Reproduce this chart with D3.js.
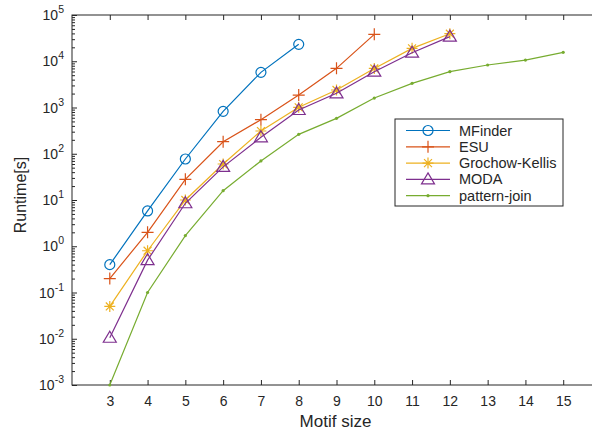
<!DOCTYPE html>
<html><head><meta charset="utf-8">
<script src="https://cdn.jsdelivr.net/npm/d3@7"></script>
<style>body{margin:0;background:#fff}svg{display:block}text{font-family:"Liberation Sans",Arial,sans-serif;fill:#262626}</style>
</head><body><svg id="c" width="592" height="430"></svg>
<script>
const motifSizes = [3,4,5,6,7,8,9,10,11,12,13,14,15];
const xTicks = [3,4,5,6,7,8,9,10,11,12,13,14,15];
const yTickExps = [-3,-2,-1,0,1,2,3,4,5];
const seriesNames = ["MFinder","ESU","Grochow-Kellis","MODA","pattern-join"];
const seriesColors = ["#0072BD","#D95319","#EDB120","#7E2F8E","#77AC30"];
const seriesMarkers = ["circle","plus","star","triangle","dot"];
const mfinder = [0.4, 5.8, 77, 826, 5750, 23200];
const esu = [0.2, 2.0, 28, 182, 546, 1860, 7030, 38200];
const grochow = [0.05, 0.8, 10, 60, 310, 1010, 2390, 7000, 19000, 39400];
const moda = [0.0105, 0.5, 8.5, 52, 227, 883, 2025, 5950, 15300, 34000];
const patternJoin = [0.001, 0.1, 1.7, 15.9, 70, 263, 583, 1600, 3330, 5950, 8300, 10600, 15600];
const seriesValues = [mfinder, esu, grochow, moda, patternJoin];

const svg = d3.select("#c");
const L=72, R=601, T=15, B=385;
const x = d3.scaleLinear().domain([2,16]).range([L,R]);
const y = d3.scaleLog().domain([1e-3,1e5]).range([B,T]);
const axisColor = "#262626";

svg.append("rect").attr("x",L).attr("y",T).attr("width",R-L).attr("height",B-T)
  .attr("fill","none").attr("stroke",axisColor).attr("stroke-width",1);

const xb = svg.append("g").attr("transform",`translate(0,${B})`)
  .call(d3.axisBottom(x).tickValues(xTicks).tickSize(-5).tickPadding(11).tickFormat(d3.format("d")));
const xt = svg.append("g").attr("transform",`translate(0,${T})`)
  .call(d3.axisTop(x).tickValues(xTicks).tickSize(-5).tickFormat(""));
[xb,xt].forEach(g=>{g.select(".domain").remove();g.selectAll("line").attr("stroke",axisColor);});
xb.selectAll("text").attr("font-size",14).attr("fill",axisColor).style("font-family","Liberation Sans, Arial");

const minor=[];
for(let e=-3;e<5;e++){for(let k=2;k<=9;k++)minor.push(k*Math.pow(10,e));}
const yl = svg.append("g").attr("transform",`translate(${L},0)`)
  .call(d3.axisLeft(y).tickValues(yTickExps.map(e=>Math.pow(10,e))).tickSize(-5).tickFormat(""));
const ylm = svg.append("g").attr("transform",`translate(${L},0)`)
  .call(d3.axisLeft(y).tickValues(minor).tickSize(-3).tickFormat(""));
[yl,ylm].forEach(g=>{g.select(".domain").remove();g.selectAll("line").attr("stroke",axisColor);});

const yLab = svg.append("g");
yTickExps.forEach(e=>{
  const t = yLab.append("text").attr("x",L-8).attr("y",y(Math.pow(10,e))+5)
    .attr("text-anchor","end").attr("font-size",14);
  t.append("tspan").text("10");
  t.append("tspan").attr("dy",-7).attr("font-size",10.5).text(String(e));
});

svg.append("text").attr("x",(L+R)/2 - 1).attr("y",427).attr("text-anchor","middle")
  .attr("font-size",17).text("Motif size");
svg.append("text").attr("transform",`translate(26,${195}) rotate(-90)`)
  .attr("text-anchor","middle").attr("font-size",16).text("Runtime[s]");

function drawMarker(g, type, cx, cy, color){
  if(type==="circle"){
    g.append("circle").attr("cx",cx).attr("cy",cy).attr("r",5).attr("fill","none").attr("stroke",color).attr("stroke-width",1.2);
  } else if(type==="plus"){
    g.append("path").attr("d",`M${cx-6},${cy}H${cx+6}M${cx},${cy-6}V${cy+6}`).attr("stroke",color).attr("stroke-width",1.2);
  } else if(type==="star"){
    const s=5.5, d=s*0.72;
    g.append("path").attr("d",`M${cx-s},${cy}H${cx+s}M${cx},${cy-s}V${cy+s}M${cx-d},${cy-d}L${cx+d},${cy+d}M${cx-d},${cy+d}L${cx+d},${cy-d}`)
      .attr("stroke",color).attr("stroke-width",1.2);
  } else if(type==="triangle"){
    g.append("path").attr("d",`M${cx},${cy-6.5}L${cx+6.5},${cy+4.5}L${cx-6.5},${cy+4.5}Z`)
      .attr("fill","none").attr("stroke",color).attr("stroke-width",1.2);
  } else {
    g.append("circle").attr("cx",cx).attr("cy",cy).attr("r",1.6).attr("fill",color);
  }
}

const line = d3.line().x((d,i)=>x(motifSizes[i])).y(d=>y(d));
seriesValues.forEach((vals,si)=>{
  const g = svg.append("g");
  g.append("path").attr("d",line(vals)).attr("fill","none").attr("stroke",seriesColors[si]).attr("stroke-width",1.2);
  vals.forEach((v,i)=>drawMarker(g,seriesMarkers[si],x(motifSizes[i]),y(v),seriesColors[si]));
});

const lg = svg.append("g");
lg.append("rect").attr("x",395).attr("y",119).attr("width",168).attr("height",87)
  .attr("fill","#fff").attr("stroke",axisColor).attr("stroke-width",1);
seriesNames.forEach((n,i)=>{
  const yy = 130.5 + i*16.3;
  lg.append("line").attr("x1",406).attr("x2",450).attr("y1",yy).attr("y2",yy).attr("stroke",seriesColors[i]).attr("stroke-width",1.2);
  drawMarker(lg, seriesMarkers[i], 428, yy, seriesColors[i]);
  lg.append("text").attr("x",459).attr("y",yy+5).attr("font-size",14.5).attr("fill","#000").text(n);
});
</script></body></html>
